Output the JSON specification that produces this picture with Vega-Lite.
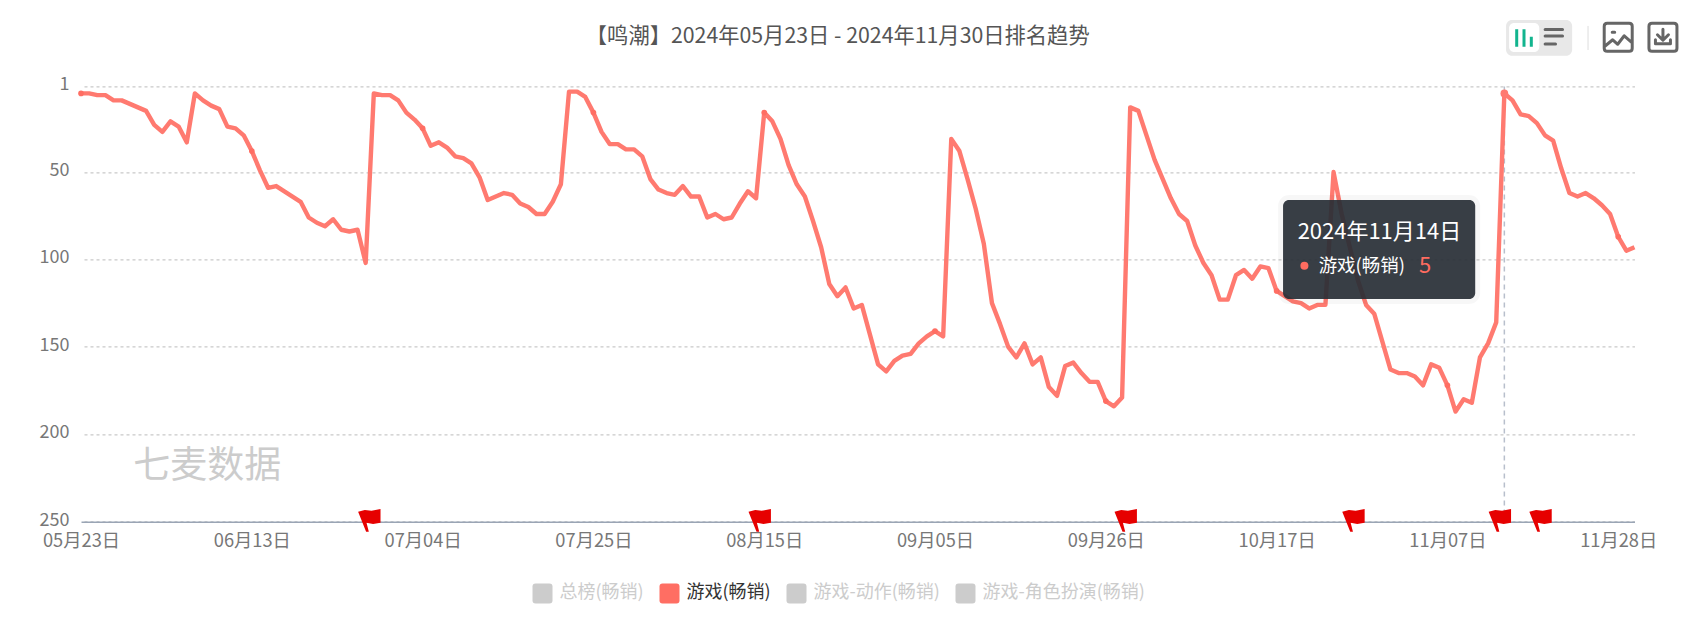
{
  "$schema": "https://vega.github.io/schema/vega-lite/v6.json",
  "width": 1553.5,
  "height": 435.3,
  "autosize": {"type": "none"},
  "padding": {"left": 81, "top": 86.4, "right": 58, "bottom": 96},
  "background": "#ffffff",
  "title": {
    "text": "【鸣潮】2024年05月23日 - 2024年11月30日排名趋势",
    "anchor": "middle",
    "frame": "group",
    "dx": -20,
    "offset": -27.5,
    "font": "Noto Sans CJK SC",
    "fontSize": 21.3,
    "fontWeight": "normal",
    "color": "#555555"
  },
  "config": {
    "font": "Noto Sans CJK SC",
    "view": {"stroke": null}
  },
  "encoding": {
    "x": {
      "field": "date",
      "type": "temporal",
      "title": null,
      "scale": {"domain": ["2024/05/23", "2024/11/30"], "nice": false},
      "axis": {
        "values": [
          {"year": 2024, "month": 5, "date": 23},
          {"year": 2024, "month": 6, "date": 13},
          {"year": 2024, "month": 7, "date": 4},
          {"year": 2024, "month": 7, "date": 25},
          {"year": 2024, "month": 8, "date": 15},
          {"year": 2024, "month": 9, "date": 5},
          {"year": 2024, "month": 9, "date": 26},
          {"year": 2024, "month": 10, "date": 17},
          {"year": 2024, "month": 11, "date": 7},
          {"year": 2024, "month": 11, "date": 28}
        ],
        "format": "%m月%d日",
        "grid": false,
        "ticks": false,
        "labelFontSize": 18.3,
        "labelColor": "#777777",
        "labelPadding": 11,
        "labelOverlap": false,
        "labelBound": false,
        "labelFlush": false,
        "domainColor": "#9aa5b5",
        "domainWidth": 1.5
      }
    },
    "y": {
      "field": "rank",
      "type": "quantitative",
      "title": null,
      "scale": {"domain": [1, 250], "reverse": true, "nice": false, "zero": false},
      "axis": {
        "values": [1, 50, 100, 150, 200, 250],
        "domain": false,
        "ticks": false,
        "labelFontSize": 18,
        "labelColor": "#777777",
        "labelPadding": 12,
        "labelOffset": -1.5,
        "labelBound": false,
        "gridColor": "#bbbbbb",
        "gridDash": [3, 3],
        "gridDashOffset": 3,
        "gridWidth": 1
      }
    }
  },
  "layer": [
    {
      "data": {"values": [{"date": "2024/11/14", "rank": 1}]},
      "mark": {"type": "rule", "color": "#b8bfcc", "strokeWidth": 1.5, "strokeDash": [5, 4]},
      "encoding": {"y2": {"datum": 250}}
    },
    {
      "data": {"values": [
        {"date":"2024/05/23","rank":5},{"date":"2024/05/24","rank":5},{"date":"2024/05/25","rank":6},{"date":"2024/05/26","rank":6},{"date":"2024/05/27","rank":9},{"date":"2024/05/28","rank":9},{"date":"2024/05/29","rank":11},{"date":"2024/05/30","rank":13},{"date":"2024/05/31","rank":15},
        {"date":"2024/06/01","rank":23},{"date":"2024/06/02","rank":27},{"date":"2024/06/03","rank":21},{"date":"2024/06/04","rank":24},{"date":"2024/06/05","rank":33},{"date":"2024/06/06","rank":5},{"date":"2024/06/07","rank":9},{"date":"2024/06/08","rank":12},{"date":"2024/06/09","rank":14},{"date":"2024/06/10","rank":24},{"date":"2024/06/11","rank":25},{"date":"2024/06/12","rank":29},{"date":"2024/06/13","rank":38},{"date":"2024/06/14","rank":49},{"date":"2024/06/15","rank":59},{"date":"2024/06/16","rank":58},{"date":"2024/06/17","rank":61},{"date":"2024/06/18","rank":64},{"date":"2024/06/19","rank":67},{"date":"2024/06/20","rank":76},{"date":"2024/06/21","rank":79},{"date":"2024/06/22","rank":81},{"date":"2024/06/23","rank":77},{"date":"2024/06/24","rank":83},{"date":"2024/06/25","rank":84},{"date":"2024/06/26","rank":83},{"date":"2024/06/27","rank":102},{"date":"2024/06/28","rank":5},{"date":"2024/06/29","rank":6},{"date":"2024/06/30","rank":6},
        {"date":"2024/07/01","rank":9},{"date":"2024/07/02","rank":16},{"date":"2024/07/03","rank":20},{"date":"2024/07/04","rank":25},{"date":"2024/07/05","rank":35},{"date":"2024/07/06","rank":33},{"date":"2024/07/07","rank":36},{"date":"2024/07/08","rank":41},{"date":"2024/07/09","rank":42},{"date":"2024/07/10","rank":45},{"date":"2024/07/11","rank":53},{"date":"2024/07/12","rank":66},{"date":"2024/07/13","rank":64},{"date":"2024/07/14","rank":62},{"date":"2024/07/15","rank":63},{"date":"2024/07/16","rank":68},{"date":"2024/07/17","rank":70},{"date":"2024/07/18","rank":74},{"date":"2024/07/19","rank":74},{"date":"2024/07/20","rank":67},{"date":"2024/07/21","rank":57},{"date":"2024/07/22","rank":4},{"date":"2024/07/23","rank":4},{"date":"2024/07/24","rank":7},{"date":"2024/07/25","rank":16},{"date":"2024/07/26","rank":27},{"date":"2024/07/27","rank":34},{"date":"2024/07/28","rank":34},{"date":"2024/07/29","rank":37},{"date":"2024/07/30","rank":37},{"date":"2024/07/31","rank":41},
        {"date":"2024/08/01","rank":54},{"date":"2024/08/02","rank":60},{"date":"2024/08/03","rank":62},{"date":"2024/08/04","rank":63},{"date":"2024/08/05","rank":58},{"date":"2024/08/06","rank":64},{"date":"2024/08/07","rank":64},{"date":"2024/08/08","rank":76},{"date":"2024/08/09","rank":74},{"date":"2024/08/10","rank":77},{"date":"2024/08/11","rank":76},{"date":"2024/08/12","rank":68},{"date":"2024/08/13","rank":61},{"date":"2024/08/14","rank":65},{"date":"2024/08/15","rank":16},{"date":"2024/08/16","rank":21},{"date":"2024/08/17","rank":31},{"date":"2024/08/18","rank":46},{"date":"2024/08/19","rank":57},{"date":"2024/08/20","rank":64},{"date":"2024/08/21","rank":78},{"date":"2024/08/22","rank":93},{"date":"2024/08/23","rank":114},{"date":"2024/08/24","rank":121},{"date":"2024/08/25","rank":116},{"date":"2024/08/26","rank":128},{"date":"2024/08/27","rank":126},{"date":"2024/08/28","rank":143},{"date":"2024/08/29","rank":160},{"date":"2024/08/30","rank":164},{"date":"2024/08/31","rank":158},
        {"date":"2024/09/01","rank":155},{"date":"2024/09/02","rank":154},{"date":"2024/09/03","rank":148},{"date":"2024/09/04","rank":144},{"date":"2024/09/05","rank":141},{"date":"2024/09/06","rank":144},{"date":"2024/09/07","rank":31},{"date":"2024/09/08","rank":38},{"date":"2024/09/09","rank":54},{"date":"2024/09/10","rank":71},{"date":"2024/09/11","rank":91},{"date":"2024/09/12","rank":125},{"date":"2024/09/13","rank":137},{"date":"2024/09/14","rank":150},{"date":"2024/09/15","rank":156},{"date":"2024/09/16","rank":148},{"date":"2024/09/17","rank":160},{"date":"2024/09/18","rank":156},{"date":"2024/09/19","rank":173},{"date":"2024/09/20","rank":178},{"date":"2024/09/21","rank":161},{"date":"2024/09/22","rank":159},{"date":"2024/09/23","rank":165},{"date":"2024/09/24","rank":170},{"date":"2024/09/25","rank":170},{"date":"2024/09/26","rank":181},{"date":"2024/09/27","rank":184},{"date":"2024/09/28","rank":179},{"date":"2024/09/29","rank":13},{"date":"2024/09/30","rank":15},
        {"date":"2024/10/01","rank":29},{"date":"2024/10/02","rank":43},{"date":"2024/10/03","rank":54},{"date":"2024/10/04","rank":65},{"date":"2024/10/05","rank":74},{"date":"2024/10/06","rank":78},{"date":"2024/10/07","rank":92},{"date":"2024/10/08","rank":102},{"date":"2024/10/09","rank":109},{"date":"2024/10/10","rank":123},{"date":"2024/10/11","rank":123},{"date":"2024/10/12","rank":109},{"date":"2024/10/13","rank":106},{"date":"2024/10/14","rank":111},{"date":"2024/10/15","rank":104},{"date":"2024/10/16","rank":105},{"date":"2024/10/17","rank":118},{"date":"2024/10/18","rank":121},{"date":"2024/10/19","rank":124},{"date":"2024/10/20","rank":125},{"date":"2024/10/21","rank":128},{"date":"2024/10/22","rank":126},{"date":"2024/10/23","rank":126},{"date":"2024/10/24","rank":50},{"date":"2024/10/25","rank":74},{"date":"2024/10/26","rank":93},{"date":"2024/10/27","rank":112},{"date":"2024/10/28","rank":126},{"date":"2024/10/29","rank":131},{"date":"2024/10/30","rank":147},{"date":"2024/10/31","rank":163},
        {"date":"2024/11/01","rank":165},{"date":"2024/11/02","rank":165},{"date":"2024/11/03","rank":167},{"date":"2024/11/04","rank":172},{"date":"2024/11/05","rank":160},{"date":"2024/11/06","rank":162},{"date":"2024/11/07","rank":172},{"date":"2024/11/08","rank":187},{"date":"2024/11/09","rank":180},{"date":"2024/11/10","rank":182},{"date":"2024/11/11","rank":156},{"date":"2024/11/12","rank":148},{"date":"2024/11/13","rank":136},{"date":"2024/11/14","rank":5},{"date":"2024/11/15","rank":9},{"date":"2024/11/16","rank":17},{"date":"2024/11/17","rank":18},{"date":"2024/11/18","rank":22},{"date":"2024/11/19","rank":29},{"date":"2024/11/20","rank":32},{"date":"2024/11/21","rank":48},{"date":"2024/11/22","rank":62},{"date":"2024/11/23","rank":64},{"date":"2024/11/24","rank":62},{"date":"2024/11/25","rank":65},{"date":"2024/11/26","rank":69},{"date":"2024/11/27","rank":74},{"date":"2024/11/28","rank":87},{"date":"2024/11/29","rank":95},{"date":"2024/11/30","rank":93}
      ]},
      "mark": {"type": "line", "color": "#ff7a70", "strokeWidth": 4.4, "strokeJoin": "round"}
    },
    {
      "data": {"values": [
        {"date":"2024/05/23","rank":5,"series":"游戏(畅销)"},{"date":"2024/06/13","rank":38,"series":"游戏(畅销)"},{"date":"2024/07/04","rank":25,"series":"游戏(畅销)"},{"date":"2024/07/25","rank":16,"series":"游戏(畅销)"},{"date":"2024/08/15","rank":16,"series":"游戏(畅销)"},{"date":"2024/09/05","rank":141,"series":"游戏(畅销)"},{"date":"2024/09/26","rank":181,"series":"游戏(畅销)"},{"date":"2024/10/17","rank":118,"series":"游戏(畅销)"},{"date":"2024/11/07","rank":172,"series":"游戏(畅销)"},{"date":"2024/11/28","rank":87,"series":"游戏(畅销)"}
      ]},
      "mark": {"type": "point", "shape": "circle", "filled": true, "size": 32, "opacity": 1},
      "encoding": {
        "color": {
          "field": "series",
          "type": "nominal",
          "scale": {
            "domain": ["总榜(畅销)", "游戏(畅销)", "游戏-动作(畅销)", "游戏-角色扮演(畅销)"],
            "range": ["#cccccc", "#ff6e63", "#cccccc", "#cccccc"]
          },
          "legend": {
            "title": null,
            "orient": "none",
            "legendX": 451.5,
            "legendY": 497,
            "direction": "horizontal",
            "columns": 4,
            "labelFontSize": 18,
            "labelLimit": 240,
            "labelColor": {"expr": "datum.label == '游戏(畅销)' ? '#333333' : '#cccccc'"},
            "labelOffset": 7,
            "columnPadding": 15,
            "symbolSize": 400,
            "symbolStrokeWidth": 0,
            "symbolType": "M-0.7,-1 L0.7,-1 Q1,-1 1,-0.7 L1,0.7 Q1,1 0.7,1 L-0.7,1 Q-1,1 -1,0.7 L-1,-0.7 Q-1,-1 -0.7,-1 Z"
          }
        }
      }
    },
    {
      "data": {"values": [{"date": "2024/11/14", "rank": 5}]},
      "mark": {"type": "point", "shape": "circle", "filled": true, "size": 60, "color": "#ff7a70", "opacity": 1}
    },
    {
      "data": {"values": [
        {"date": "2024/06/28", "rank": 250},
        {"date": "2024/08/15", "rank": 250},
        {"date": "2024/09/29", "rank": 250},
        {"date": "2024/10/27", "rank": 250},
        {"date": "2024/11/14", "rank": 250},
        {"date": "2024/11/19", "rank": 250}
      ]},
      "mark": {
        "type": "point",
        "filled": true,
        "size": 400,
        "color": "#e60000",
        "opacity": 1,
        "shape": "M-1.57,-1 L-0.9,-1.17 L-0.23,-1.1 L0.67,-1.27 L0.67,0.1 L-0.07,0.23 L-0.73,0.1 L-0.5,1 L-0.77,1 Z"
      }
    },
    {
      "data": {"values": [{"date": "2024/05/29 10:00", "rank": 218.9, "label": "七麦数据"}]},
      "mark": {"type": "text", "align": "left", "baseline": "middle", "fontSize": 37, "color": "#cccccc"},
      "encoding": {"text": {"field": "label"}}
    },
    {
      "data": {"values": [{"date": "2024/10/17 19:00", "date2": "2024/11/10 10:00", "rank": 66, "rank2": 122.6}]},
      "mark": {"type": "rect", "cornerRadius": 6, "fillOpacity": 0, "stroke": "#000000", "strokeWidth": 10, "strokeOpacity": 0.03},
      "encoding": {"x2": {"field": "date2"}, "y2": {"field": "rank2"}}
    },
    {
      "data": {"values": [{"date": "2024/10/17 19:00", "date2": "2024/11/10 10:00", "rank": 66, "rank2": 122.6}]},
      "mark": {"type": "rect", "cornerRadius": 6, "color": "#272e35", "opacity": 0.92},
      "encoding": {"x2": {"field": "date2"}, "y2": {"field": "rank2"}}
    },
    {
      "data": {"values": [{"date": "2024/10/19 14:00", "rank": 84.3, "label": "2024年11月14日"}]},
      "mark": {"type": "text", "align": "left", "baseline": "middle", "fontSize": 22, "color": "#ffffff"},
      "encoding": {"text": {"field": "label"}}
    },
    {
      "data": {"values": [{"date": "2024/10/22 04:00", "rank": 103.6, "label": "游戏(畅销)"}]},
      "mark": {"type": "text", "align": "left", "baseline": "middle", "fontSize": 18.5, "color": "#ffffff"},
      "encoding": {"text": {"field": "label"}}
    },
    {
      "data": {"values": [{"date": "2024/11/03 12:00", "rank": 103.6, "label": "5"}]},
      "mark": {"type": "text", "align": "left", "baseline": "middle", "fontSize": 22, "color": "#ff6c60"},
      "encoding": {"text": {"field": "label"}}
    },
    {
      "data": {"values": [{"date": "2024/10/20 10:00", "rank": 103.6}]},
      "mark": {"type": "point", "shape": "circle", "filled": true, "size": 64, "color": "#ff6c60", "opacity": 1}
    },
    {
      "data": {"values": [{"date": "2024/11/14 05:00", "date2": "2024/11/22 08:00", "rank": -37, "rank2": -16.6}]},
      "mark": {"type": "rect", "cornerRadius": 6, "color": "#e8e8e8"},
      "encoding": {"x2": {"field": "date2"}, "y2": {"field": "rank2"}}
    },
    {
      "data": {"values": [{"date": "2024/11/14 14:00", "date2": "2024/11/18 07:00", "rank": -35.3, "rank2": -18.7}]},
      "mark": {"type": "rect", "cornerRadius": 5, "color": "#ffffff"},
      "encoding": {"x2": {"field": "date2"}, "y2": {"field": "rank2"}}
    },
    {
      "data": {"values": [{"date": "2024/11/16 10:00", "rank": -26.7}]},
      "mark": {
        "type": "point",
        "filled": false,
        "size": 400,
        "stroke": "#12b48e",
        "strokeWidth": 3,
        "opacity": 1,
        "shape": "M-0.73,-0.87 L-0.73,0.87 M0,-0.87 L0,0.87 M0.73,-0.13 L0.73,0.87"
      }
    },
    {
      "data": {"values": [{"date": "2024/11/20 02:00", "rank": -27.4}]},
      "mark": {
        "type": "point",
        "filled": false,
        "size": 400,
        "stroke": "#666666",
        "strokeWidth": 3,
        "strokeCap": "round",
        "opacity": 1,
        "shape": "M-0.87,-0.73 L0.87,-0.73 M-0.87,-0.07 L0.87,-0.07 M-0.87,0.73 L0.17,0.73"
      }
    },
    {
      "data": {"values": [{"date": "2024/11/24 07:00", "rank": -33.6, "rank2": -19.8}]},
      "mark": {"type": "rule", "color": "#dddddd", "strokeWidth": 1},
      "encoding": {"y2": {"field": "rank2"}}
    },
    {
      "data": {"values": [{"date": "2024/11/28", "rank": -27.1}]},
      "mark": {
        "type": "point",
        "filled": false,
        "size": 400,
        "stroke": "#666666",
        "strokeWidth": 3,
        "strokeCap": "round",
        "strokeJoin": "round",
        "opacity": 1,
        "shape": "M-1.1,-1.4 L1.1,-1.4 Q1.4,-1.4 1.4,-1.1 L1.4,1.1 Q1.4,1.4 1.1,1.4 L-1.1,1.4 Q-1.4,1.4 -1.4,1.1 L-1.4,-1.1 Q-1.4,-1.4 -1.1,-1.4 Z M-1.4,0.95 L-0.55,0.25 L-0.05,0.7 L0.6,-0.15 L1.4,0.55 M-0.6,-0.5 L-0.35,-0.5"
      }
    },
    {
      "data": {"values": [{"date": "2024/12/03 12:00", "rank": -27.1}]},
      "mark": {
        "type": "point",
        "filled": false,
        "size": 400,
        "stroke": "#666666",
        "strokeWidth": 3,
        "strokeCap": "round",
        "strokeJoin": "round",
        "opacity": 1,
        "shape": "M-1.1,-1.4 L1.1,-1.4 Q1.4,-1.4 1.4,-1.1 L1.4,1.1 Q1.4,1.4 1.1,1.4 L-1.1,1.4 Q-1.4,1.4 -1.4,1.1 L-1.4,-1.1 Q-1.4,-1.4 -1.1,-1.4 Z M0,-0.8 L0,0.2 M-0.55,-0.25 L0,0.3 L0.55,-0.25 M-0.75,0.25 L-0.75,0.65 L0.75,0.65 L0.75,0.25"
      }
    }
  ]
}
